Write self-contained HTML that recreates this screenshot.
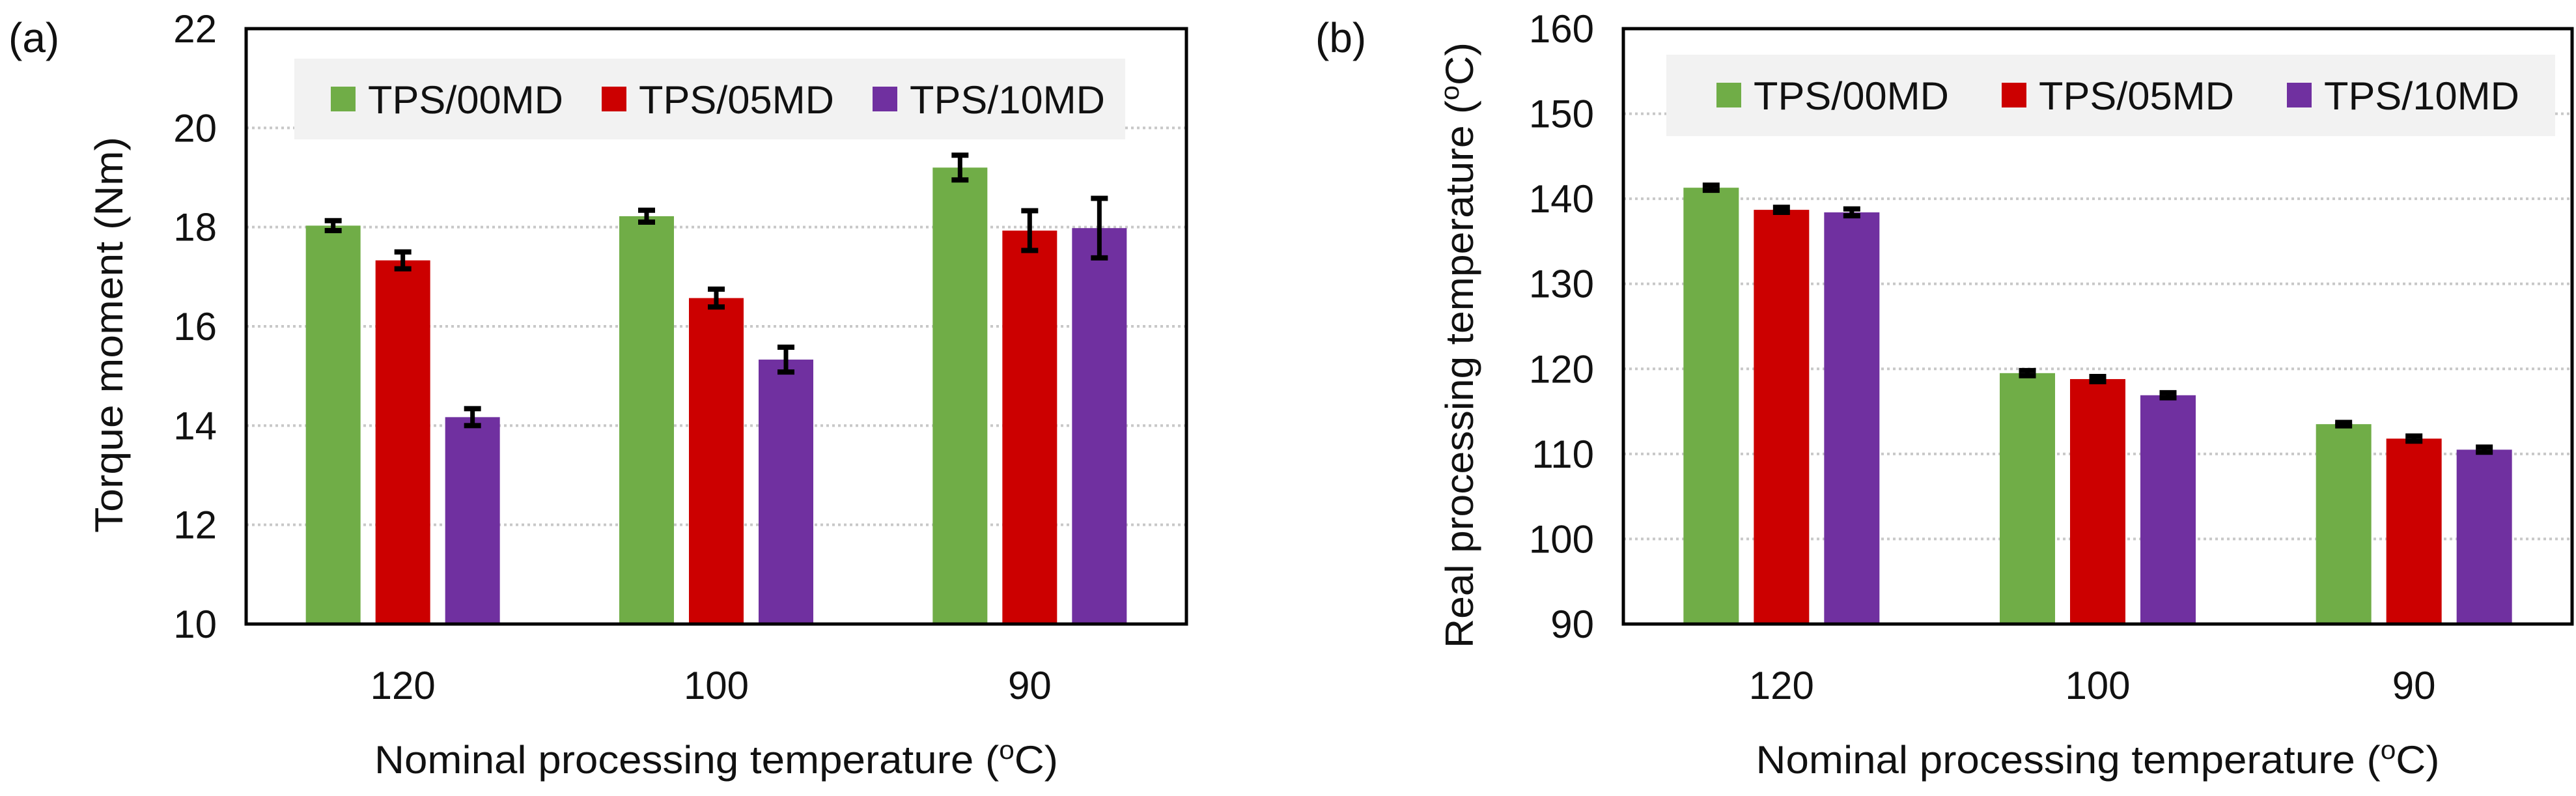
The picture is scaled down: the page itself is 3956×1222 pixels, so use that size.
<!DOCTYPE html>
<html><head><meta charset="utf-8"><style>
html,body{margin:0;padding:0;background:#fff;}
svg{display:block;font-family:"Liberation Sans",sans-serif;}
</style></head><body>
<svg id="chart" width="3956" height="1222" viewBox="0 0 3956 1222" xmlns="http://www.w3.org/2000/svg"></svg>
<script>
const categories = ["120", "100", "90"];
const seriesNames = ["TPS/00MD", "TPS/05MD", "TPS/10MD"];
const colors = ["#70AD47", "#CC0000", "#7030A0"];
const torqueValues = [[18.03, 18.22, 19.2], [17.33, 16.57, 17.93], [14.17, 15.33, 17.98]];
const torqueErrors = [[0.1, 0.12, 0.25], [0.17, 0.18, 0.4], [0.17, 0.25, 0.6]];
const torqueTicks = [10, 12, 14, 16, 18, 20, 22];
const tempValues = [[141.3, 119.5, 113.5], [138.7, 118.8, 111.8], [138.4, 116.9, 110.5]];
const tempErrors = [[0.3, 0.3, 0.2], [0.3, 0.3, 0.3], [0.4, 0.3, 0.3]];
const tempTicks = [90, 100, 110, 120, 130, 140, 150, 160];

const NS = "http://www.w3.org/2000/svg";
const svg = document.getElementById("chart");
function mk(tag, attrs, parent, text) {
  const e = document.createElementNS(NS, tag);
  for (const k in attrs) e.setAttribute(k, attrs[k]);
  if (text !== undefined) e.textContent = text;
  (parent || svg).appendChild(e);
  return e;
}

function panel(p) {
  const g = mk("g", {});
  
  
  const ymin = p.ticks[0], ymax = p.ticks[p.ticks.length - 1];
  const yS = v => p.bottom - (v - ymin) / (ymax - ymin) * (p.bottom - p.top);
  const groupW = (p.right - p.left) / categories.length;
  const xC = i => p.left + groupW * (i + 0.5);
  // gridlines
  p.ticks.forEach(t => {
    if (t === ymin || t === ymax) return;
    const l = mk("line", {x1: p.left, x2: p.right, y1: yS(t), y2: yS(t), stroke: "#c8c8c8", "stroke-width": 4, "stroke-dasharray": "4 5"}, g);
    
    
  });
  // tick labels
  p.ticks.forEach(t => {
    const tx = mk("text", {x: p.left - 45, y: yS(t) + 21, "text-anchor": "end", "font-size": 60, fill: "#111"}, g, String(t));
    
    
  });
  // bars
  categories.forEach((c, i) => {
    seriesNames.forEach((s, j) => {
      const v = p.values[j][i], e = p.errors[j][i];
      const cx = xC(i) + (j - 1) * p.step;
      const r = mk("rect", {x: cx - p.bw / 2, y: yS(v), width: p.bw, height: p.bottom - yS(v), fill: colors[j]}, g);
      
      
      const eg = mk("g", {stroke: "#000"}, g);
      
      
      mk("line", {x1: cx, x2: cx, y1: yS(v + e), y2: yS(v - e), "stroke-width": 7}, eg);
      mk("line", {x1: cx - 13, x2: cx + 13, y1: yS(v + e), y2: yS(v + e), "stroke-width": 8}, eg);
      mk("line", {x1: cx - 13, x2: cx + 13, y1: yS(v - e), y2: yS(v - e), "stroke-width": 8}, eg);
    });
    const lt = mk("text", {x: xC(i), y: 1073, "text-anchor": "middle", "font-size": 60, fill: "#111"}, g, c);
    
    
  });
  // frame
  const fr = mk("rect", {x: p.left, y: p.top, width: p.right - p.left, height: p.bottom - p.top, fill: "none", stroke: "#000", "stroke-width": 5}, g);
  
  
  // legend
  const lg = mk("g", {}, g);
  
  
  mk("rect", {x: p.leg.x, y: p.leg.y, width: p.leg.w, height: p.leg.h, fill: "#f2f2f2"}, lg);
  seriesNames.forEach((s, j) => {
    const it = mk("g", {}, lg);
    
    
    mk("rect", {x: p.leg.sq[j], y: p.leg.cy - 19, width: 38, height: 38, fill: colors[j]}, it);
    mk("text", {x: p.leg.sq[j] + 57, y: p.leg.cy + 22, "font-size": 60, fill: "#111", textLength: 300, lengthAdjust: "spacingAndGlyphs"}, it, s);
  });
  // titles
  const yt = mk("text", {x: 0, y: 0, "text-anchor": "middle", "font-size": 60, fill: "#111", transform: `translate(${p.ytx},${p.yty}) rotate(-90)`, textLength: p.ytl, lengthAdjust: "spacingAndGlyphs"}, g);
  
  
  p.ytitle(yt);
  const xt = mk("text", {x: (p.left + p.right) / 2, y: 1187, "text-anchor": "middle", "font-size": 60, fill: "#111", textLength: 1050, lengthAdjust: "spacingAndGlyphs"}, g);
  
  
  mk("tspan", {}, xt, "Nominal processing temperature (");
  mk("tspan", {dy: -22, "font-size": 40}, xt, "o");
  mk("tspan", {dy: 22}, xt, "C)");
  const pl = mk("text", {x: p.labx, y: 80, "font-size": 64, fill: "#111"}, g, p.label);
  
  
}

panel({key: "torque", left: 378, right: 1822, top: 44, bottom: 958, ticks: torqueTicks,
  values: torqueValues, errors: torqueErrors, bw: 84, step: 107,
  leg: {x: 452, y: 90, w: 1276, h: 124, cy: 152, sq: [508, 924, 1340]},
  ytx: 188, yty: 514, ytl: 608, ytitle: t => { t.textContent = "Torque moment (Nm)"; },
  labx: 13, label: "(a)"});
panel({key: "temperature", left: 2493, right: 3950, top: 44, bottom: 958, ticks: tempTicks,
  values: tempValues, errors: tempErrors, bw: 85, step: 108,
  leg: {x: 2559, y: 84, w: 1365, h: 125, cy: 146, sq: [2636, 3074, 3512]},
  ytx: 2262, yty: 530, ytl: 930, ytitle: t => {
    mk("tspan", {}, t, "Real processing temperature (");
    mk("tspan", {dy: -22, "font-size": 40}, t, "o");
    mk("tspan", {dy: 22}, t, "C)");
  },
  labx: 2020, label: "(b)"});
</script>
</body></html>
